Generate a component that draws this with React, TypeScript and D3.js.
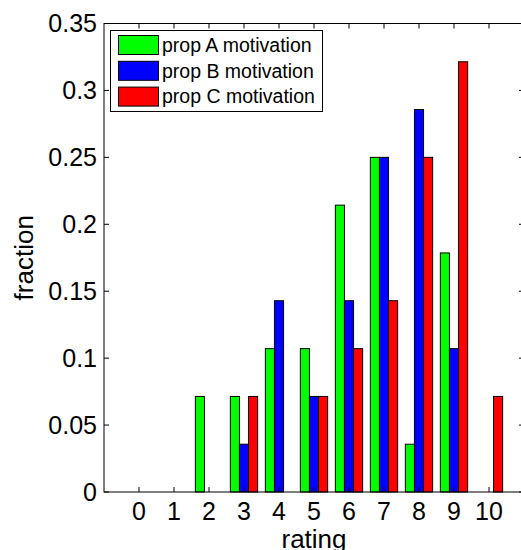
import React, { useEffect, useRef } from 'react';
import * as d3 from 'd3';

// Data
const ratings = [0, 1, 2, 3, 4, 5, 6, 7, 8, 9, 10];
const seriesNames = ['prop A motivation', 'prop B motivation', 'prop C motivation'];
const seriesColors = ['#00ff00', '#0000ff', '#ff0000'];
const propA = [0, 0, 0.0714, 0.0714, 0.1071, 0.1071, 0.2143, 0.25, 0.0357, 0.1786, 0];
const propB = [0, 0, 0, 0.0357, 0.1429, 0.0714, 0.1429, 0.25, 0.2857, 0.1071, 0];
const propC = [0, 0, 0, 0.0714, 0, 0.0714, 0.1071, 0.1429, 0.25, 0.3214, 0.0714];
const yTicks = [0, 0.05, 0.1, 0.15, 0.2, 0.25, 0.3, 0.35];

const App = () => {
  const svgRef = useRef(null);

  const W = 521;
  const H = 550;
  const plot = { left: 104, right: 524, top: 23.5, bottom: 492 };
  const font = '"Liberation Sans", Arial, sans-serif';

  useEffect(() => {
    if (!svgRef.current) return;
    const svg = d3.select(svgRef.current);
    svg.selectAll('*').remove();

    const x = d3.scaleLinear().domain([-1, 11]).range([plot.left, plot.right]);
    const y = d3.scaleLinear().domain([0, 0.35]).range([plot.bottom, plot.top]);

    const barW = x(0.26) - x(0);
    const series = [propA, propB, propC];

    // Bars
    series.forEach((vals, si) => {
      svg.append('g')
        .selectAll('rect')
        .data(vals.map((v, i) => ({ r: ratings[i], v })).filter(d => d.v > 0))
        .enter()
        .append('rect')
        .attr('x', d => x(d.r) + (si - 1.5) * barW)
        .attr('y', d => y(d.v))
        .attr('width', barW)
        .attr('height', d => y(0) - y(d.v))
        .attr('fill', seriesColors[si])
        .attr('stroke', '#000')
        .attr('stroke-width', 1);
    });

    // Axes box
    svg.append('rect')
      .attr('x', plot.left)
      .attr('y', plot.top)
      .attr('width', plot.right - plot.left)
      .attr('height', plot.bottom - plot.top)
      .attr('fill', 'none')
      .attr('stroke', '#000')
      .attr('stroke-width', 1);

    const tickLen = 5;

    // x ticks (inward, bottom and top)
    ratings.forEach(r => {
      svg.append('line')
        .attr('x1', x(r)).attr('x2', x(r))
        .attr('y1', plot.bottom).attr('y2', plot.bottom - tickLen)
        .attr('stroke', '#000');
      svg.append('line')
        .attr('x1', x(r)).attr('x2', x(r))
        .attr('y1', plot.top).attr('y2', plot.top + tickLen)
        .attr('stroke', '#000');
      svg.append('text')
        .attr('x', x(r))
        .attr('y', 520)
        .attr('text-anchor', 'middle')
        .style('font-family', font)
        .style('font-size', '25px')
        .text(r);
    });

    // y ticks (inward, left and right)
    yTicks.forEach(t => {
      svg.append('line')
        .attr('x1', plot.left).attr('x2', plot.left + tickLen)
        .attr('y1', y(t)).attr('y2', y(t))
        .attr('stroke', '#000');
      svg.append('line')
        .attr('x1', plot.right).attr('x2', plot.right - tickLen)
        .attr('y1', y(t)).attr('y2', y(t))
        .attr('stroke', '#000');
      svg.append('text')
        .attr('x', 97)
        .attr('y', y(t))
        .attr('dy', '0.35em')
        .attr('text-anchor', 'end')
        .style('font-family', font)
        .style('font-size', '25px')
        .text(d3.format('~g')(t));
    });

    // Axis labels
    svg.append('text')
      .attr('x', (plot.left + plot.right) / 2)
      .attr('y', 548)
      .attr('text-anchor', 'middle')
      .style('font-family', font)
      .style('font-size', '26px')
      .text('rating');

    svg.append('text')
      .attr('transform', `translate(33,${(plot.top + plot.bottom) / 2}) rotate(-90)`)
      .attr('text-anchor', 'middle')
      .style('font-family', font)
      .style('font-size', '26px')
      .text('fraction');

    // Legend
    const legend = svg.append('g');
    legend.append('rect')
      .attr('x', 110.5)
      .attr('y', 30.5)
      .attr('width', 212)
      .attr('height', 81)
      .attr('fill', '#fff')
      .attr('stroke', '#000');

    seriesNames.forEach((name, i) => {
      const rowY = 35.5 + i * 25.8;
      legend.append('rect')
        .attr('x', 118.5)
        .attr('y', rowY)
        .attr('width', 40)
        .attr('height', 19)
        .attr('fill', seriesColors[i])
        .attr('stroke', '#000');
      legend.append('text')
        .attr('x', 162)
        .attr('y', rowY + 9.5)
        .attr('dy', '0.35em')
        .style('font-family', font)
        .style('font-size', '19.5px')
        .text(name);
    });
  }, []);

  return (
    <div style={{ position: 'absolute', left: 0, top: 0, width: W, height: H, background: '#fff' }}>
      <svg ref={svgRef} width={W} height={H} style={{ display: 'block' }}></svg>
    </div>
  );
};

export default App;
